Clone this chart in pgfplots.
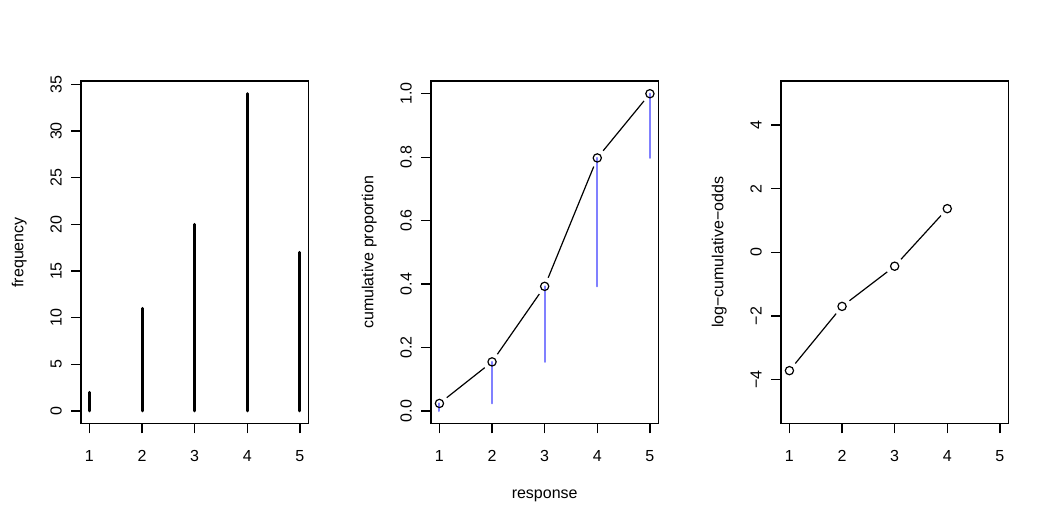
\documentclass[border=0pt]{standalone}
\usepackage{fontspec}
\setmainfont{Liberation Sans}
\usepackage{pgfplots}
\pgfplotsset{compat=1.18}
\definecolor{rblue}{RGB}{128,128,255}
\pgfplotsset{
  rpanel/.style={
    scale only axis, width=170.5pt, height=257pt,
    anchor=south west,
    xmin=0.84, xmax=5.16,
    xtick={1,2,3,4,5}, xticklabels={1,2,3,4,5},
    tick align=outside, tick pos=left,
    major tick length=7.2pt,
    axis on top,
    axis line style={line width=0.9pt},
    every tick/.style={black, line width=0.9pt},
    tick label style={font=\fontsize{12}{14}\selectfont, inner sep=0pt},
    label style={font=\fontsize{12}{14}\selectfont},
    xticklabel style={yshift=-20.8pt, anchor=base},
    yticklabel style={xshift=-7.3pt, rotate=90, anchor=base},
    ylabel style={at={(axis description cs:-0.2534,0.5)}, anchor=base, inner sep=0pt},
  },
  seg/.style={black, line width=0.9pt, mark=none, shorten >=7pt, shorten <=7pt},
}
\begin{document}
\begin{tikzpicture}
\path[use as bounding box] (0,0) rectangle (787.5pt,393.75pt);
% panel 1
\begin{axis}[rpanel, at={(60.75pt,75.98pt)},
  ymin=-1.36, ymax=35.36,
  ytick={0,5,10,15,20,25,30,35}, yticklabels={0,5,10,15,20,25,30,35},
  ylabel={frequency}]
\addplot[ycomb, black, line width=2.2pt, line cap=round, mark=none]
  coordinates {(1,2)(2,11)(3,20)(4,34)(5,17)};
\end{axis}
% panel 2
\begin{axis}[rpanel, at={(323.25pt,75.98pt)},
  ymin=-0.04, ymax=1.04,
  ytick={0,0.2,0.4,0.6,0.8,1}, yticklabels={0.0,0.2,0.4,0.6,0.8,1.0},
  ylabel={cumulative proportion},
  xlabel={response},
  xlabel style={at={(axis description cs:0.5,-0.2183)}, anchor=base, inner sep=0pt}]
\addplot[seg] coordinates {(1,0.0238)(2,0.1548)};
\addplot[seg] coordinates {(2,0.1548)(3,0.3929)};
\addplot[seg] coordinates {(3,0.3929)(4,0.7976)};
\addplot[seg] coordinates {(4,0.7976)(5,1.0)};
\addplot[black, only marks, mark=o, mark size=3.1pt, mark options={black, line width=0.9pt}]
  coordinates {(1,0.0238)(2,0.1548)(3,0.3929)(4,0.7976)(5,1.0)};
\addplot[rblue, line width=1.5pt, line cap=round, mark=none, unbounded coords=jump]
  coordinates {(1,0)(1,0.0238) (1,nan) (2,0.0238)(2,0.1548) (2,nan)
               (3,0.1548)(3,0.3929) (3,nan) (4,0.3929)(4,0.7976) (4,nan)
               (5,0.7976)(5,1.0)};
\end{axis}
% panel 3
\begin{axis}[rpanel, at={(585.75pt,75.98pt)},
  ymin=-5.38, ymax=5.38,
  ytick={-4,-2,0,2,4}, yticklabels={−4,−2,0,2,4},
  ylabel={log−cumulative−odds}]
\addplot[seg] coordinates {(1,-3.714)(2,-1.697)};
\addplot[seg] coordinates {(2,-1.697)(3,-0.435)};
\addplot[seg] coordinates {(3,-0.435)(4,1.372)};
\addplot[black, only marks, mark=o, mark size=3.1pt, mark options={black, line width=0.9pt}]
  coordinates {(1,-3.714)(2,-1.697)(3,-0.435)(4,1.372)};
\end{axis}
\end{tikzpicture}
\end{document}
